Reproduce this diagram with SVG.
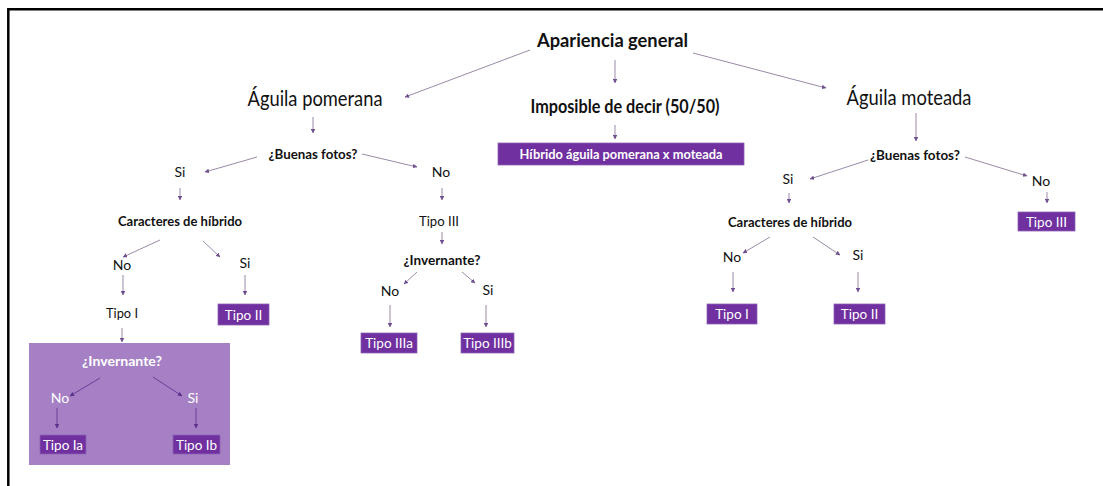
<svg xmlns="http://www.w3.org/2000/svg" width="1103" height="486" viewBox="0 0 1103 486">
<defs>
<marker id="ah" viewBox="0 0 6 6" refX="5.5" refY="3" markerWidth="4.5" markerHeight="4.5" markerUnits="userSpaceOnUse" orient="auto">
<path d="M0,0 L6,3 L0,6 z" fill="#6f4f8f"/>
</marker>
<marker id="ahw" viewBox="0 0 6 6" refX="5.5" refY="3" markerWidth="4.5" markerHeight="4.5" markerUnits="userSpaceOnUse" orient="auto">
<path d="M0,0 L6,3 L0,6 z" fill="#5e2f8c"/>
</marker>
<style>
text{font-family:Lato,"Open Sans","Liberation Sans",sans-serif;fill:#111;text-anchor:middle}
.b{font-weight:bold}
.big{font-size:21.5px}
.h1{font-size:18.5px;font-weight:bold}
.q{font-size:14px;font-weight:bold}
.t{font-size:14px}
.w{fill:#fff}
.box{fill:#7030a0;stroke:#8d63b3;stroke-width:0.8}
.bt{font-size:13.5px;fill:#fff}
.c line{stroke:#9a8aa8;stroke-width:1;marker-end:url(#ah)}
.c2 line{stroke:#6a3d99;stroke-width:1;marker-end:url(#ahw)}
</style>
</defs>
<rect width="1103" height="486" fill="#fff"/>
<path d="M8.3,487 V9.3 H1104" fill="none" stroke="#000" stroke-width="2.5"/>

<g id="panel-tipo1">
<rect x="29" y="343" width="201" height="122" fill="#a680c4"/>
</g>

<g id="connectors">
<g class="c">
<line x1="530" y1="50" x2="405" y2="97"/>
<line x1="615" y1="60" x2="615" y2="83"/>
<line x1="693" y1="53" x2="826" y2="88"/>
<line x1="615" y1="125" x2="615" y2="139"/>
<line x1="313" y1="117" x2="313" y2="133"/>
<line x1="257" y1="157" x2="205" y2="172"/>
<line x1="362" y1="154" x2="417" y2="167"/>
<line x1="180" y1="188" x2="180" y2="200"/>
<line x1="442" y1="188" x2="442" y2="200"/>
<line x1="160" y1="240" x2="123" y2="257"/>
<line x1="203" y1="241" x2="220" y2="257"/>
<line x1="123" y1="275" x2="123" y2="295"/>
<line x1="245" y1="275" x2="245" y2="295"/>
<line x1="122" y1="328" x2="122" y2="342"/>
<line x1="442" y1="232" x2="442" y2="244"/>
<line x1="417" y1="272" x2="404" y2="284"/>
<line x1="462" y1="272" x2="475" y2="283"/>
<line x1="390" y1="305" x2="390" y2="327"/>
<line x1="486" y1="305" x2="486" y2="327"/>
<line x1="916" y1="113" x2="916" y2="141"/>
<line x1="868" y1="160" x2="810" y2="179"/>
<line x1="965" y1="157" x2="1027" y2="176"/>
<line x1="789" y1="193" x2="789" y2="203"/>
<line x1="1047" y1="192" x2="1047" y2="203"/>
<line x1="770" y1="237" x2="743" y2="253"/>
<line x1="813" y1="237" x2="840" y2="255"/>
<line x1="733" y1="272" x2="733" y2="292"/>
<line x1="858" y1="272" x2="858" y2="292"/>
</g>
<g class="c2">
<line x1="100" y1="378" x2="70" y2="396"/>
<line x1="153" y1="377" x2="182" y2="396"/>
<line x1="57" y1="408" x2="57" y2="428"/>
<line x1="196" y1="408" x2="196" y2="428"/>
</g>
</g>

<g id="n-apariencia"><text class="h1" x="612.5" y="47" textLength="151" lengthAdjust="spacingAndGlyphs">Apariencia general</text></g>
<g id="n-pomerana"><text class="big" x="315" y="106" textLength="135" lengthAdjust="spacingAndGlyphs">Águila pomerana</text></g>
<g id="n-imposible"><text class="h1" x="625" y="113" textLength="189" lengthAdjust="spacingAndGlyphs">Imposible de decir (50/50)</text></g>
<g id="n-hibrido"><rect class="box" x="498" y="143" width="246" height="22"/><text class="b w" x="621" y="158.5" font-size="13" textLength="203" lengthAdjust="spacingAndGlyphs">Híbrido águila pomerana x moteada</text></g>
<g id="n-moteada"><text class="big" x="909" y="105" textLength="125" lengthAdjust="spacingAndGlyphs">Águila moteada</text></g>

<g id="n-p-buenas"><text class="q" x="313" y="159" textLength="89" lengthAdjust="spacingAndGlyphs">¿Buenas fotos?</text></g>
<g id="n-p-si"><text class="t" x="180" y="177">Si</text></g>
<g id="n-p-no"><text class="t" x="441" y="177">No</text></g>
<g id="n-p-caracteres"><text class="q" x="180" y="226" textLength="124" lengthAdjust="spacingAndGlyphs">Caracteres de híbrido</text></g>
<g id="n-p-tipo3"><text class="t" x="439" y="226" textLength="40" lengthAdjust="spacingAndGlyphs">Tipo III</text></g>
<g id="n-p-invernante"><text class="q" x="442" y="265" textLength="77" lengthAdjust="spacingAndGlyphs">¿Invernante?</text></g>
<g id="n-p-c-no"><text class="t" x="122" y="270">No</text></g>
<g id="n-p-c-si"><text class="t" x="245" y="268">Si</text></g>
<g id="n-p-tipo1"><text class="t" x="122" y="318" textLength="32" lengthAdjust="spacingAndGlyphs">Tipo I</text></g>
<g id="n-p-tipo2"><rect class="box" x="218" y="304" width="51" height="21"/><text class="bt" x="243.5" y="319.5">Tipo II</text></g>
<g id="n-p-i-no"><text class="t" x="390" y="296">No</text></g>
<g id="n-p-i-si"><text class="t" x="488" y="295">Si</text></g>
<g id="n-p-tipo3a"><rect class="box" x="361" y="333" width="56" height="20"/><text class="bt" x="389" y="348">Tipo IIIa</text></g>
<g id="n-p-tipo3b"><rect class="box" x="461" y="333" width="53" height="20"/><text class="bt" x="487.5" y="348">Tipo IIIb</text></g>

<g id="n-p-inv2"><text class="q w" x="122" y="366" textLength="80" lengthAdjust="spacingAndGlyphs">¿Invernante?</text></g>
<g id="n-p-inv2-no"><text class="t w" x="60" y="403">No</text></g>
<g id="n-p-inv2-si"><text class="t w" x="193" y="403">Si</text></g>
<g id="n-p-tipo1a"><rect class="box" x="40" y="435" width="46" height="19"/><text class="bt" x="63" y="449.5">Tipo Ia</text></g>
<g id="n-p-tipo1b"><rect class="box" x="173" y="435" width="47" height="19"/><text class="bt" x="196.5" y="449.5">Tipo Ib</text></g>

<g id="n-m-buenas"><text class="q" x="915" y="160" textLength="90" lengthAdjust="spacingAndGlyphs">¿Buenas fotos?</text></g>
<g id="n-m-si"><text class="t" x="788" y="184">Si</text></g>
<g id="n-m-no"><text class="t" x="1041" y="186">No</text></g>
<g id="n-m-tipo3"><rect class="box" x="1018" y="212" width="57" height="19"/><text class="bt" x="1046.5" y="226.5">Tipo III</text></g>
<g id="n-m-caracteres"><text class="q" x="790" y="227" textLength="124" lengthAdjust="spacingAndGlyphs">Caracteres de híbrido</text></g>
<g id="n-m-c-no"><text class="t" x="732" y="262">No</text></g>
<g id="n-m-c-si"><text class="t" x="858" y="260">Si</text></g>
<g id="n-m-tipo1"><rect class="box" x="707" y="304" width="50" height="20"/><text class="bt" x="732" y="319">Tipo I</text></g>
<g id="n-m-tipo2"><rect class="box" x="834" y="304" width="51" height="20"/><text class="bt" x="859.5" y="319">Tipo II</text></g>
</svg>
